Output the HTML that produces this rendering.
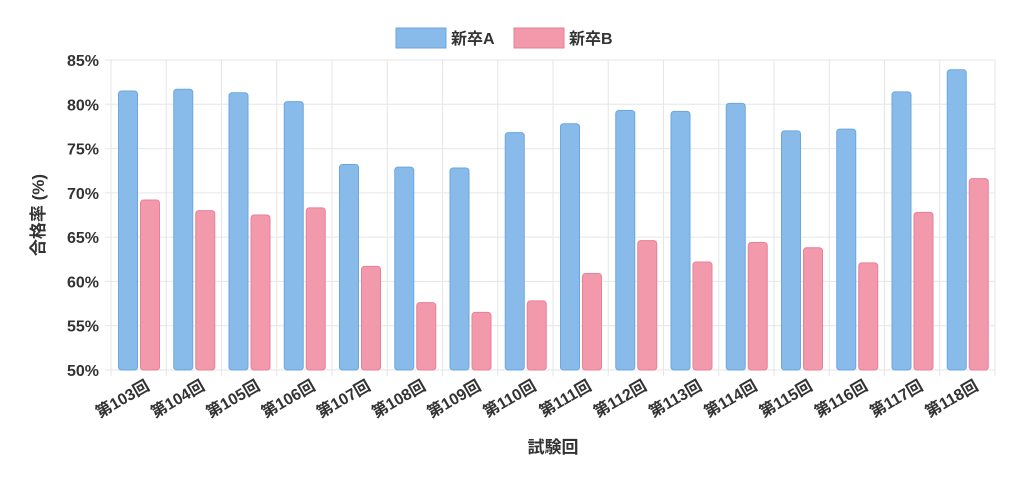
<!DOCTYPE html><html><head><meta charset="utf-8"><style>body{margin:0;background:#fff}svg{display:block}text{font-family:"Liberation Sans","Noto Sans CJK JP",sans-serif;font-weight:bold;fill:#333}</style></head><body>
<svg width="1024" height="478" viewBox="0 0 1024 478">
<rect x="396" y="28" width="50" height="20" fill="#89bbea" stroke="#6aa7e0"/>
<text x="451" y="44" font-size="16">新卒A</text>
<rect x="514" y="28" width="50" height="20" fill="#f29aac" stroke="#ea7f96"/>
<text x="569" y="44" font-size="16">新卒B</text>
<g id="g"></g>
<text transform="translate(44,215) rotate(-90)" text-anchor="middle" font-size="17">合格率 (%)</text>
<text x="553" y="453" text-anchor="middle" font-size="17">試験回</text>
</svg>
<script>
var A=[81.5,81.7,81.3,80.3,73.2,72.9,72.8,76.8,77.8,79.3,79.2,80.1,77.0,77.2,81.4,83.9];
var B=[69.2,68.0,67.5,68.3,61.7,57.6,56.5,57.8,60.9,64.6,62.2,64.4,63.8,62.1,67.8,71.6];
var L=111,R=995,T=60,Bt=370,W=(R-L)/16,s="";
function y(v){return Bt-(v-50)*(Bt-T)/35}
for(var v=50;v<=85;v+=5){s+='<line x1="'+(L-6)+'" x2="'+R+'" y1="'+y(v)+'" y2="'+y(v)+'" stroke="#e6e6e6"/>';s+='<text x="'+(L-12)+'" y="'+(y(v)+6)+'" text-anchor="end" font-size="16">'+v+'%</text>'}
for(var i=0;i<=16;i++){var x=L+i*W;s+='<line x1="'+x+'" x2="'+x+'" y1="'+T+'" y2="'+(Bt+6)+'" stroke="#e6e6e6"/>'}
for(var i=0;i<16;i++){var x=L+i*W;
s+='<rect x="'+(x+7.5)+'" y="'+y(A[i])+'" width="19" height="'+(Bt-y(A[i]))+'" rx="3" fill="#89bbea" stroke="#6aa7e0"/>';
s+='<rect x="'+(x+29.5)+'" y="'+y(B[i])+'" width="19" height="'+(Bt-y(B[i]))+'" rx="3" fill="#f29aac" stroke="#ea7f96"/>';
s+='<text transform="translate('+(x+W/2+12)+',389) rotate(-30)" text-anchor="end" font-size="16">第'+(103+i)+'回</text>'}
document.getElementById('g').innerHTML=s;
</script></body></html>
